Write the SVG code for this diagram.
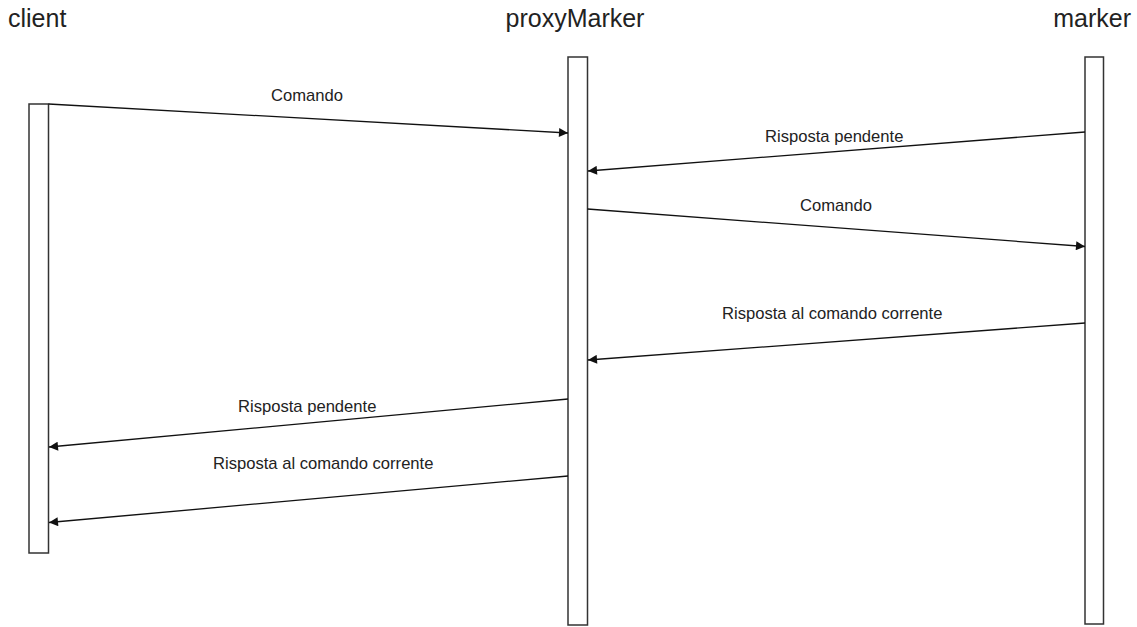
<svg xmlns="http://www.w3.org/2000/svg" width="1137" height="627" viewBox="0 0 1137 627">
<defs>
<style>
.title{font-family:"Liberation Sans",Arial,sans-serif;font-size:25px;fill:#222}
.lbl{font-family:"Liberation Sans",Arial,sans-serif;font-size:16.6px;fill:#222}
.bar{fill:#fff;stroke:#333;stroke-width:1.5}
.msg{fill:none;stroke:#111;stroke-width:1.3;marker-end:url(#ah)}
</style>
<marker id="ah" viewBox="0 0 10 10" refX="10" refY="5" markerWidth="11" markerHeight="9" markerUnits="userSpaceOnUse" orient="auto">
<path d="M0,0 L10,5 L0,10 Z" fill="#111"/>
</marker>
</defs>
<rect width="1137" height="627" fill="#fff"/>
<g id="client">
<text class="title" x="8" y="27">client</text>
<rect class="bar" x="29" y="104" width="19.5" height="449"/>
</g>
<g id="proxyMarker">
<text class="title" x="575" y="27" text-anchor="middle">proxyMarker</text>
<rect class="bar" x="568" y="57" width="19.5" height="568"/>
</g>
<g id="marker">
<text class="title" x="1131" y="27" text-anchor="end">marker</text>
<rect class="bar" x="1085" y="57" width="18.5" height="567"/>
</g>
<g id="connectors">
<line class="msg" x1="48.5" y1="104" x2="568" y2="133"/>
<text class="lbl" x="271" y="101">Comando</text>
<line class="msg" x1="1085" y1="132" x2="588" y2="171"/>
<text class="lbl" x="765" y="142">Risposta pendente</text>
<line class="msg" x1="587.5" y1="209" x2="1085" y2="246.5"/>
<text class="lbl" x="800" y="211">Comando</text>
<line class="msg" x1="1085" y1="323" x2="588" y2="360"/>
<text class="lbl" x="722" y="319">Risposta al comando corrente</text>
<line class="msg" x1="568" y1="399" x2="49" y2="447"/>
<text class="lbl" x="238" y="412">Risposta pendente</text>
<line class="msg" x1="568" y1="476" x2="49" y2="522.5"/>
<text class="lbl" x="213" y="469">Risposta al comando corrente</text>
</g>
</svg>
